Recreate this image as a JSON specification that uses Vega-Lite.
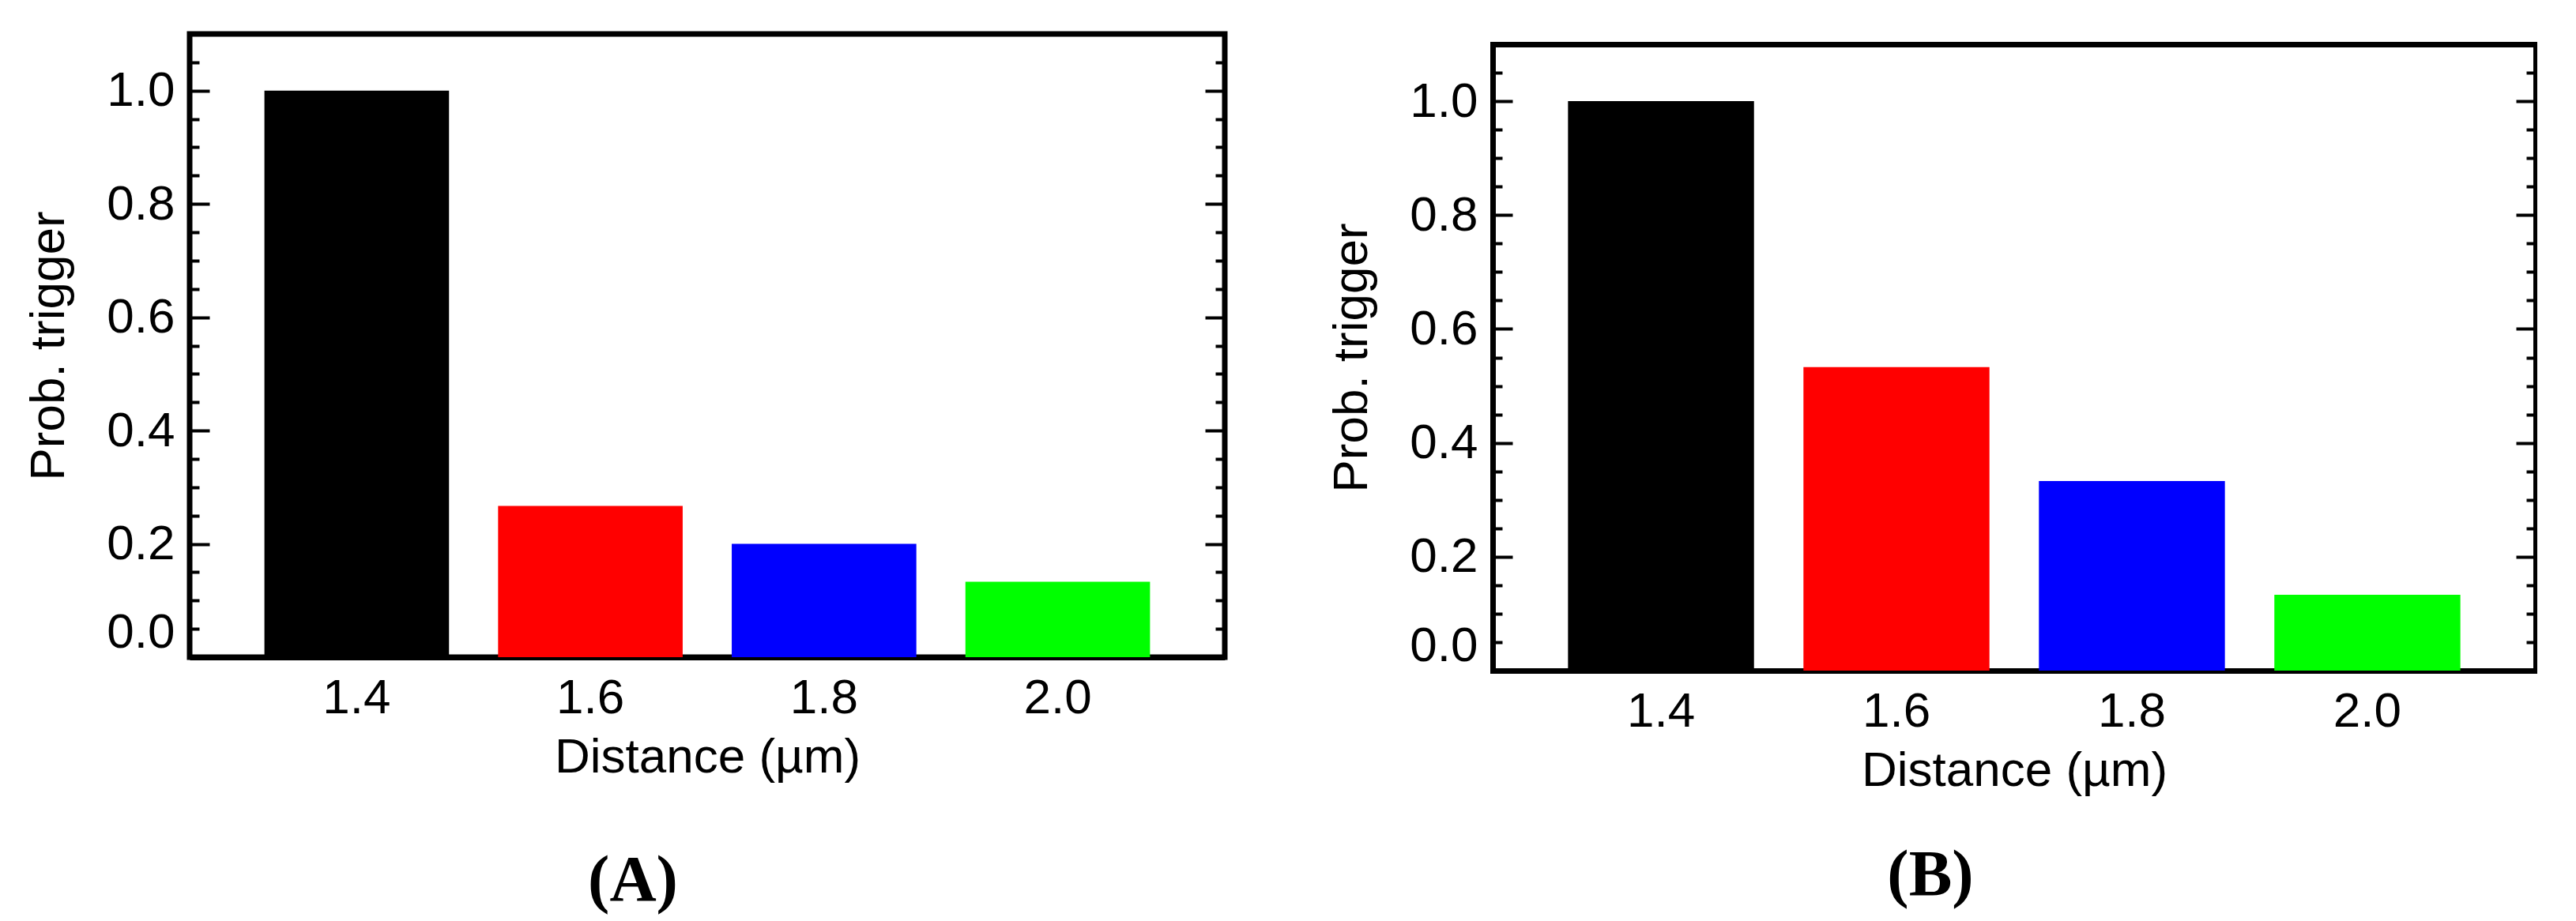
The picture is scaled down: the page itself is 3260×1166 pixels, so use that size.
{
  "$schema": "https://vega.github.io/schema/vega-lite/v6.json",
  "background": "white",
  "padding": {"left": 27, "top": 37, "right": 0, "bottom": 0},
  "spacing": 123,
  "datasets": {
    "a": [
      {"distance": "1.4", "prob": 1.0},
      {"distance": "1.6", "prob": 0.267},
      {"distance": "1.8", "prob": 0.2},
      {"distance": "2.0", "prob": 0.133}
    ],
    "b": [
      {"distance": "1.4", "prob": 1.0},
      {"distance": "1.6", "prob": 0.533},
      {"distance": "1.8", "prob": 0.333},
      {"distance": "2.0", "prob": 0.133}
    ]
  },
  "hconcat": [
    {
      "width": 1310,
      "height": 789,
      "data": {"name": "a"},
      "title": {"text": "(A)", "orient": "bottom", "anchor": "middle", "dx": -94, "offset": 86},
      "layer": [
        {
          "mark": {"type": "bar"},
          "encoding": {
            "x": {"field": "distance", "type": "ordinal", "sort": null,
                  "scale": {"paddingInner": 0.21, "paddingOuter": 0.32},
                  "axis": {"title": "Distance (µm)"}},
            "y": {"field": "prob", "type": "quantitative",
                  "scale": {"domain": [0, 1.1], "nice": false, "zero": true},
                  "axis": {"title": "Prob. trigger", "orient": "left"}},
            "color": {"field": "distance", "type": "nominal", "legend": null,
                      "scale": {"domain": ["1.4", "1.6", "1.8", "2.0"], "range": ["#000000", "#ff0000", "#0000ff", "#00ff00"]}}
          }
        },
        {
          "mark": {"type": "bar", "opacity": 0},
          "encoding": {
            "x": {"field": "distance", "type": "ordinal", "sort": null},
            "y": {"field": "prob", "type": "quantitative",
                  "axis": {"orient": "right", "labels": false, "title": null}}
          }
        }
      ],
      "resolve": {"axis": {"y": "independent"}}
    },
    {
      "width": 1320,
      "height": 806,
      "view": {"stroke": null},
      "data": {"name": "b"},
      "title": {"text": "(B)", "orient": "bottom", "anchor": "middle", "dx": -106, "offset": 62},
      "layer": [
        {
          "mark": {"type": "bar"},
          "encoding": {
            "x": {"field": "distance", "type": "ordinal", "sort": null,
                  "scale": {"paddingInner": 0.21, "paddingOuter": 0.32},
                  "axis": {"title": "Distance (µm)", "domainCap": "square"}},
            "y": {"field": "prob", "type": "quantitative",
                  "scale": {"domain": [0, 1.1], "nice": false, "zero": true, "range": [806, 13]},
                  "axis": {"title": "Prob. trigger", "orient": "left",
                           "domain": true, "domainColor": "black", "domainWidth": 7, "domainCap": "square"}},
            "color": {"field": "distance", "type": "nominal", "legend": null,
                      "scale": {"domain": ["1.4", "1.6", "1.8", "2.0"], "range": ["#000000", "#ff0000", "#0000ff", "#00ff00"]}}
          }
        },
        {
          "mark": {"type": "bar", "opacity": 0},
          "encoding": {
            "x": {"field": "distance", "type": "ordinal", "sort": null,
                  "axis": {"orient": "top", "labels": false, "ticks": false, "title": null, "offset": -13,
                           "domain": true, "domainColor": "black", "domainWidth": 7, "domainCap": "square"}},
            "y": {"field": "prob", "type": "quantitative",
                  "axis": {"orient": "right", "labels": false, "title": null,
                           "domain": true, "domainColor": "black", "domainWidth": 7, "domainCap": "square"}}
          }
        }
      ],
      "resolve": {"axis": {"x": "independent", "y": "independent"}}
    }
  ],
  "config": {
    "view": {"stroke": "black", "strokeWidth": 7},
    "font": "Liberation Sans",
    "title": {"font": "Liberation Serif", "fontSize": 82, "fontWeight": "bold", "color": "black"},
    "axis": {
      "labelFont": "Liberation Sans", "labelFontSize": 62, "labelColor": "black",
      "titleFont": "Liberation Sans", "titleFontSize": 62, "titleFontWeight": "normal", "titleColor": "black",
      "tickColor": "black", "zindex": 1, "grid": false
    },
    "axisX": {
      "labelAngle": 0, "tickSize": -13, "tickWidth": 2.5,
      "domain": true, "domainColor": "black", "domainWidth": 7,
      "labelPadding": 34, "titlePadding": 14
    },
    "axisY": {
      "values": [0, 0.05, 0.1, 0.15, 0.2, 0.25, 0.3, 0.35, 0.4, 0.45, 0.5, 0.55, 0.6, 0.65, 0.7, 0.75, 0.8, 0.85, 0.9, 0.95, 1.0, 1.05],
      "labelExpr": "abs(datum.value * 5 - round(datum.value * 5)) < 0.001 ? format(datum.value, '.1f') : ''",
      "tickSize": {"condition": {"test": "abs(datum.value * 5 - round(datum.value * 5)) < 0.001", "value": -25}, "value": -12},
      "tickWidth": 4, "domain": false,
      "labelPadding": 44, "titlePadding": 41, "labelFlush": true
    }
  }
}
